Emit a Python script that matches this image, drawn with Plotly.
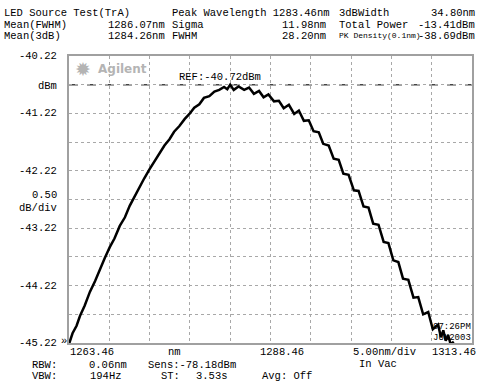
import plotly.graph_objects as go

# ---- data ----
wavelength_nm = [1263.46, 1263.9, 1264.4, 1264.82, 1265.4, 1266.05, 1266.7, 1267.29, 1267.9, 1268.52,
                 1269.1, 1269.76, 1270.4, 1270.99, 1271.6, 1272.23, 1272.8, 1273.46, 1274.1, 1274.70,
                 1275.3, 1275.93, 1276.5, 1277.16, 1277.8, 1278.40, 1279.0, 1279.63, 1280.2, 1280.87,
                 1281.5, 1282.10, 1282.7, 1283.1, 1283.46, 1283.9, 1284.5, 1285.19, 1285.8, 1286.4,
                 1287.04, 1287.6, 1288.2, 1288.89, 1289.5, 1290.1, 1290.74, 1291.4, 1291.98, 1292.6,
                 1293.21, 1293.8, 1294.45, 1295.0, 1295.68, 1296.3, 1296.92, 1297.5, 1298.15, 1298.8,
                 1299.39, 1300.0, 1300.62, 1301.2, 1301.86, 1302.5, 1303.09, 1303.7, 1304.32, 1304.9,
                 1305.56, 1306.2, 1306.79, 1307.4, 1308.03, 1308.6, 1309.26, 1309.6, 1309.9, 1310.2,
                 1310.5, 1310.8, 1311.2]
power_dbm = [-45.24, -45.05, -44.92, -44.75, -44.57, -44.33, -44.14, -43.93, -43.74, -43.55,
             -43.40, -43.18, -43.03, -42.83, -42.66, -42.50, -42.35, -42.19, -42.05, -41.91,
             -41.78, -41.67, -41.54, -41.44, -41.32, -41.23, -41.12, -41.06, -40.95, -40.92,
             -40.84, -40.81, -40.76, -40.80, -40.72, -40.81, -40.75, -40.81, -40.77, -40.88,
             -40.83, -40.94, -40.89, -41.01, -41.00, -41.13, -41.07, -41.23, -41.17, -41.35,
             -41.34, -41.53, -41.55, -41.75, -41.78, -42.01, -42.03, -42.27, -42.29, -42.56,
             -42.57, -42.84, -42.86, -43.14, -43.16, -43.46, -43.48, -43.78, -43.81, -44.10,
             -44.12, -44.43, -44.42, -44.72, -44.68, -44.98, -44.90, -45.12, -45.00, -45.18,
             -45.08, -45.24, -45.20]

x_start, x_stop, x_div = 1263.46, 1313.46, 5.0
y_top, y_bottom, y_div = -40.22, -45.22, 0.5
ref_level = -40.72

y_tick_labels = ["-40.22", "-41.22", "-42.22", "-43.22", "-44.22", "-45.22"]
y_tick_values = [-40.22, -41.22, -42.22, -43.22, -44.22, -45.22]

header_rows = [
    ["LED Source Test(TrA)", "Peak Wavelength 1283.46nm", "3dBWidth", "34.80nm"],
    ["Mean(FWHM)", "1286.07nm", "Sigma", "11.98nm", "Total Power", "-13.41dBm"],
    ["Mean(3dB)", "1284.26nm", "FWHM", "28.20nm", "PK Density(0.1nm)", "-38.69dBm"],
]

# ---- layout geometry (pixels) ----
W, H = 486, 383
L, R, T, B = 69, 474, 56, 343
FONT = "Liberation Mono"
FS = 10.5

fig = go.Figure()
fig.add_trace(go.Scatter(x=wavelength_nm, y=power_dbm, mode="lines",
                         line=dict(color="black", width=2.5),
                         hoverinfo="skip", showlegend=False))

# reference line
fig.add_shape(type="line", xref="paper", yref="y", x0=0, x1=1, y0=ref_level, y1=ref_level,
              line=dict(color="#444444", width=1.5, dash="dash"), layer="below")

grid = dict(showgrid=True, gridcolor="#a8a8a8", griddash="dot", gridwidth=1,
            zeroline=False, showticklabels=False, ticks="",
            showline=True, linecolor="#a0a0a0", linewidth=2, mirror=True)
fig.update_xaxes(range=[x_start, x_stop], tick0=x_start, dtick=x_div, **grid)
fig.update_yaxes(range=[y_bottom, y_top], tick0=y_bottom, dtick=y_div, **grid)

fig.update_layout(width=W, height=H, margin=dict(l=L, r=W - R, t=T, b=H - B),
                  paper_bgcolor="white", plot_bgcolor="white",
                  font=dict(family=FONT, size=FS, color="black"))


def px(xp):
    return (xp - L) / (R - L)


def py(yp):
    return (B - yp) / (B - T)


def txt(s, xp, yp, anchor="left", size=FS, color="black", family=FONT, bg=None):
    fig.add_annotation(text=s, x=px(xp), y=py(yp), xref="paper", yref="paper",
                       xanchor=anchor, yanchor="middle", showarrow=False,
                       font=dict(size=size, color=color, family=family),
                       bgcolor=bg, borderpad=0)


# header
h0 = header_rows[0]
txt(h0[0], 3, 13)
txt(h0[1], 172, 13)
txt(h0[2], 339, 13)
txt(h0[3], 478, 13, "right")
for r, yp in ((1, 25), (2, 36)):
    row = header_rows[r]
    txt(row[0], 3, yp)
    txt(row[1], 166, yp, "right")
    txt(row[2], 172, yp)
    txt(row[3], 328, yp, "right")
    txt(row[4], 339, yp, size=(8 if r == 2 else FS))
    txt(row[5], 478, yp, "right")

# y labels
for v, s in zip(y_tick_values, y_tick_labels):
    yp = T + (y_top - v) / (y_top - y_bottom) * (B - T)
    txt(s, 58, yp, "right")
txt("dBm", 58, T + (y_top - ref_level) / (y_top - y_bottom) * (B - T) + 1, "right")
txt("0.50", 58, 195, "right")
txt("dB/div", 58, 208, "right")
txt("»", 60, 341, "left")

# x labels
txt(f"{x_start:.2f}", 69, 352)
txt("nm", 175, 352, "center")
txt(f"{(x_start + x_stop) / 2:.2f}", 260, 352)
txt(f"{x_div:.2f}nm/div", 353, 352)
txt(f"{x_stop:.2f}", 479, 352, "right")

# bottom info
txt("RBW:", 58, 365, "right")
txt("0.06nm", 88, 365)
txt("Sens:-78.18dBm", 147, 365)
txt("In Vac", 380, 364, "center")
txt("VBW:", 58, 376, "right")
txt("194Hz", 89, 376)
txt("ST:", 160, 376)
txt("3.53s", 196, 376)
txt("Avg: Off", 262, 376)

# REF label
txt(f"REF:{ref_level:.2f}dBm", 179, 77)

# logo
txt("✹", 83, 69, "center", size=19, color="#b4b4b4", family="DejaVu Sans")
txt("<b>Agilent</b>", 97, 69, "left", size=12, color="#b4b4b4", family="DejaVu Sans")

# timestamp
txt("07:26PM", 474, 327, "right", size=9)
txt("JUN2003", 474, 338, "right", size=9)

fig.write_html("out.html")
